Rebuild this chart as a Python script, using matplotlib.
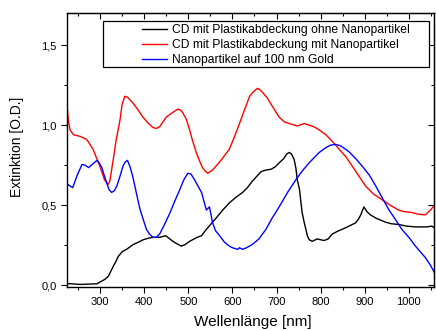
import matplotlib
matplotlib.use("Agg")
import matplotlib.pyplot as plt
from matplotlib.patches import Rectangle
from matplotlib.ticker import MultipleLocator, FuncFormatter

plt.rcParams['font.family'] = ['Liberation Sans', 'DejaVu Sans']

# CD mit Plastikabdeckung ohne Nanopartikel (schwarz)
wl_black = [225, 255, 293, 304, 312, 319, 330, 336, 341, 350, 360, 375, 387, 398,
            410, 420, 427, 435, 442, 449, 456, 465, 474, 484, 493, 503, 520, 530,
            541, 552, 563, 578, 593, 608, 623, 634, 645, 655, 665, 676, 688, 697,
            706, 716, 723, 729, 734, 740, 744, 747, 752, 758, 763, 770, 774, 781,
            792, 800, 808, 817, 826, 840, 857, 868, 879, 885, 891, 898, 905, 913,
            925, 947, 960, 977, 995, 1015, 1040, 1052, 1058]
ext_black = [0.012, 0.006, 0.01, 0.027, 0.04, 0.058, 0.12, 0.15, 0.18, 0.21, 0.225,
             0.255, 0.27, 0.285, 0.295, 0.30, 0.30, 0.30, 0.305, 0.31, 0.295, 0.275,
             0.26, 0.245, 0.255, 0.275, 0.30, 0.31, 0.35, 0.385, 0.42, 0.47, 0.515,
             0.55, 0.58, 0.61, 0.65, 0.68, 0.71, 0.72, 0.725, 0.74, 0.765, 0.79, 0.82,
             0.83, 0.82, 0.785, 0.73, 0.66, 0.60, 0.455, 0.39, 0.31, 0.285, 0.275,
             0.29, 0.285, 0.28, 0.29, 0.32, 0.34, 0.36, 0.375, 0.39, 0.41, 0.44,
             0.49, 0.46, 0.44, 0.42, 0.395, 0.385, 0.38, 0.37, 0.365, 0.365, 0.37,
             0.36]

# CD mit Plastikabdeckung mit Nanopartikel (rot)
wl_red = [225, 228, 232, 240, 255, 270, 284, 300, 310, 318, 322, 329, 336, 345, 350,
          356, 362, 374, 385, 397, 410, 420, 428, 435, 450, 460, 468, 476, 482, 487,
          495, 503, 510, 518, 525, 532, 538, 544, 555, 571, 582, 593, 605, 616, 628,
          639, 648, 657, 665, 679, 690, 706, 718, 729, 747, 763, 774, 785, 797, 812,
          826, 842, 858, 880, 902, 920, 939, 958, 977, 990, 1007, 1020, 1037, 1049,
          1058]
ext_red = [1.13, 1.03, 0.97, 0.94, 0.93, 0.91, 0.85, 0.74, 0.66, 0.63, 0.65, 0.77,
           0.90, 1.03, 1.13, 1.18, 1.175, 1.14, 1.10, 1.05, 1.01, 0.985, 0.98, 0.99,
           1.05, 1.07, 1.085, 1.10, 1.095, 1.08, 1.04, 0.97, 0.90, 0.83, 0.78, 0.735,
           0.715, 0.70, 0.72, 0.77, 0.81, 0.85, 0.93, 1.01, 1.10, 1.18, 1.21, 1.23,
           1.215, 1.17, 1.12, 1.05, 1.02, 1.01, 0.995, 1.01, 1.0, 0.99, 0.97, 0.94,
           0.90, 0.85, 0.80, 0.71, 0.62, 0.57, 0.535, 0.50, 0.47, 0.46, 0.455, 0.445,
           0.44, 0.47, 0.50]

# Nanopartikel auf 100 nm Gold (blau)
wl_blue = [225, 232, 238, 247, 259, 266, 274, 284, 293, 298, 304, 309, 315, 320, 326,
           332, 338, 345, 352, 357, 362, 368, 374, 382, 390, 398, 405, 412, 420, 427,
           435, 446, 458, 470, 481, 490, 499, 506, 514, 522, 530, 536, 541, 548, 555,
           562, 571, 582, 593, 600, 612, 616, 623, 632, 645, 660, 676, 690, 706, 725,
           744, 760, 774, 781, 797, 812, 822, 834, 846, 864, 880, 894, 910, 925, 940,
           955, 970, 984, 1000, 1015, 1026, 1037, 1048, 1058]
ext_blue = [0.635, 0.62, 0.61, 0.68, 0.755, 0.75, 0.735, 0.76, 0.78, 0.765, 0.735,
            0.69, 0.64, 0.60, 0.58, 0.59, 0.62, 0.68, 0.745, 0.77, 0.78, 0.74, 0.68,
            0.58, 0.48, 0.41, 0.35, 0.32, 0.30, 0.30, 0.32, 0.38, 0.45, 0.53, 0.60,
            0.66, 0.70, 0.695, 0.66, 0.62, 0.58, 0.52, 0.47, 0.49, 0.39, 0.34, 0.31,
            0.27, 0.245, 0.235, 0.225, 0.235, 0.225, 0.235, 0.255, 0.29, 0.35, 0.42,
            0.49, 0.58, 0.66, 0.72, 0.765, 0.785, 0.83, 0.86, 0.875, 0.88, 0.87,
            0.835, 0.79, 0.745, 0.69, 0.62, 0.545, 0.47, 0.41, 0.35, 0.30, 0.245,
            0.21, 0.175, 0.13, 0.08]

labels = ["CD mit Plastikabdeckung ohne Nanopartikel",
          "CD mit Plastikabdeckung mit Nanopartikel",
          "Nanopartikel auf 100 nm Gold"]

fig = plt.figure(figsize=(4.36, 3.31), dpi=100)
ax = fig.add_axes([67/436, 1 - 287/331, 367/436, 274/331])

ax.plot(wl_black, ext_black, color='black', lw=1.0, label=labels[0])
ax.plot(wl_red, ext_red, color='red', lw=1.0, label=labels[1])
ax.plot(wl_blue, ext_blue, color='blue', lw=1.0, label=labels[2])

ax.set_xlim(225, 1057)
ax.set_ylim(-0.01, 1.70)

ax.xaxis.set_major_locator(MultipleLocator(100))
ax.xaxis.set_minor_locator(MultipleLocator(50))
ax.yaxis.set_major_locator(MultipleLocator(0.5))
ax.yaxis.set_minor_locator(MultipleLocator(0.25))
ax.yaxis.set_major_formatter(FuncFormatter(lambda v, p: ("%.1f" % v).replace('.', ',')))

ax.tick_params(which='both', direction='out', labelsize=8, width=0.8)
ax.tick_params(which='major', length=4)
ax.tick_params(which='minor', length=2.5)

# mirrored ticks on top and right (inward, no labels)
axt = ax.secondary_xaxis('top')
axt.xaxis.set_major_locator(MultipleLocator(100))
axt.xaxis.set_minor_locator(MultipleLocator(50))
axt.tick_params(which='both', direction='in', labeltop=False, width=0.8)
axt.tick_params(which='major', length=4)
axt.tick_params(which='minor', length=2.5)
axr = ax.secondary_yaxis('right')
axr.yaxis.set_major_locator(MultipleLocator(0.5))
axr.yaxis.set_minor_locator(MultipleLocator(0.25))
axr.tick_params(which='both', direction='in', labelright=False, width=0.8)
axr.tick_params(which='major', length=4)
axr.tick_params(which='minor', length=2.5)

for s in ax.spines.values():
    s.set_linewidth(1.0)

fig.text(253/436, 1 - 322/331, "Wellenlänge [nm]", fontsize=11, ha='center', va='center')
fig.text(17/436, 1 - 147/331, "Extinktion [O.D.]", fontsize=10, ha='center', va='center',
         rotation=90)

# legend box
ax.add_patch(Rectangle((36/367, (287 - 67)/274), 326/367, 46/274, transform=ax.transAxes,
                       fill=True, facecolor='white', edgecolor='black', lw=0.9, zorder=4))
leg = ax.legend(loc='upper left', bbox_to_anchor=(75/367, (287 - 24)/274), frameon=False,
                fontsize=8.7, borderpad=0, borderaxespad=0, handlelength=2.1,
                handletextpad=0.4, labelspacing=0.25)
leg.set_zorder(5)

fig.savefig("out.png", dpi=100)
